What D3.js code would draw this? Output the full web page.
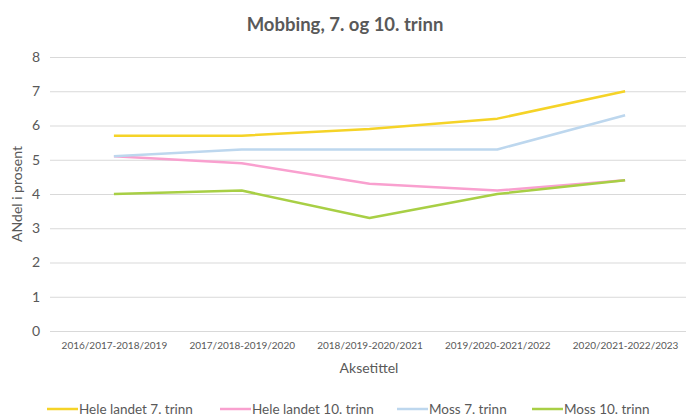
<!DOCTYPE html>
<html>
<head>
<meta charset="utf-8">
<script src="https://cdn.jsdelivr.net/npm/d3@7"></script>
<style>
  body { margin: 0; background: #fff; }
  svg { display: block; font-family: Lato, "Open Sans", sans-serif; }
</style>
</head>
<body>
<div id="chart"></div>
<script>
const periods = ["2016/2017-2018/2019", "2017/2018-2019/2020", "2018/2019-2020/2021", "2019/2020-2021/2022", "2020/2021-2022/2023"];
const seriesNames = ["Hele landet 7. trinn", "Hele landet 10. trinn", "Moss 7. trinn", "Moss 10. trinn"];
const heleLandet7 = [5.7, 5.7, 5.9, 6.2, 7.0];
const heleLandet10 = [5.1, 4.9, 4.3, 4.1, 4.4];
const moss7 = [5.1, 5.3, 5.3, 5.3, 6.3];
const moss10 = [4.0, 4.1, 3.3, 4.0, 4.4];
const yTicks = [0, 1, 2, 3, 4, 5, 6, 7, 8];

const colors = ["#f5d327", "#f9a0cf", "#bdd7ee", "#a8cf45"];
const allSeries = [heleLandet7, heleLandet10, moss7, moss10];

const width = 686;
const height = 415;

const x = d3.scalePoint()
            .domain(periods)
            .range([50, 689])
            .padding(0.5);

const y = d3.scaleLinear()
            .domain([0, 8])
            .range([331, 57]);

const svg = d3.select("#chart")
              .append("svg")
              .attr("width", width)
              .attr("height", height);

// title
svg.append("text")
   .attr("x", 345)
   .attr("y", 31)
   .attr("text-anchor", "middle")
   .attr("font-size", 18.5)
   .attr("font-weight", "bold")
   .attr("fill", "#595959")
   .text("Mobbing, 7. og 10. trinn");

// grid + y labels
const yAxis = svg.append("g")
   .attr("transform", "translate(50,0)")
   .call(d3.axisLeft(y).tickValues(yTicks).tickSize(-640).tickPadding(10));
yAxis.select(".domain").remove();
yAxis.selectAll(".tick line").attr("stroke", "#d9d9d9").attr("stroke-width", 1);
yAxis.selectAll(".tick text")
     .attr("font-size", 14)
     .attr("fill", "#595959")
     .attr("font-family", "Lato, sans-serif");

// x labels
const xAxis = svg.append("g")
   .attr("transform", "translate(0,331)")
   .call(d3.axisBottom(x).tickSize(0).tickPadding(11));
xAxis.select(".domain").remove();
xAxis.selectAll(".tick text")
     .attr("font-size", 10)
     .attr("fill", "#595959")
     .attr("font-family", "Lato, sans-serif");

// axis titles
svg.append("text")
   .attr("x", 369)
   .attr("y", 373)
   .attr("text-anchor", "middle")
   .attr("font-size", 14)
   .attr("fill", "#595959")
   .text("Aksetittel");

svg.append("text")
   .attr("transform", "translate(22,194) rotate(-90)")
   .attr("text-anchor", "middle")
   .attr("font-size", 14)
   .attr("fill", "#595959")
   .text("ANdel i prosent");

// lines
const line = d3.line()
               .x((d, i) => x(periods[i]))
               .y((d) => y(d));

svg.selectAll("path.series")
   .data(allSeries)
   .enter()
   .append("path")
   .attr("class", "series")
   .attr("d", line)
   .attr("fill", "none")
   .attr("stroke", (d, i) => colors[i])
   .attr("stroke-width", 2.5)
   .attr("stroke-linejoin", "round");

// legend
const legendX = [47, 220, 397, 532];
const legend = svg.selectAll("g.legend")
   .data(seriesNames)
   .enter()
   .append("g")
   .attr("class", "legend")
   .attr("transform", (d, i) => `translate(${legendX[i]},409)`);

legend.append("line")
      .attr("x1", 0)
      .attr("x2", 31)
      .attr("stroke", (d, i) => colors[i])
      .attr("stroke-width", 2.5);

legend.append("text")
      .attr("x", 32)
      .attr("y", 4.5)
      .attr("font-size", 13.5)
      .attr("fill", "#595959")
      .text((d) => d);
</script>
</body>
</html>
